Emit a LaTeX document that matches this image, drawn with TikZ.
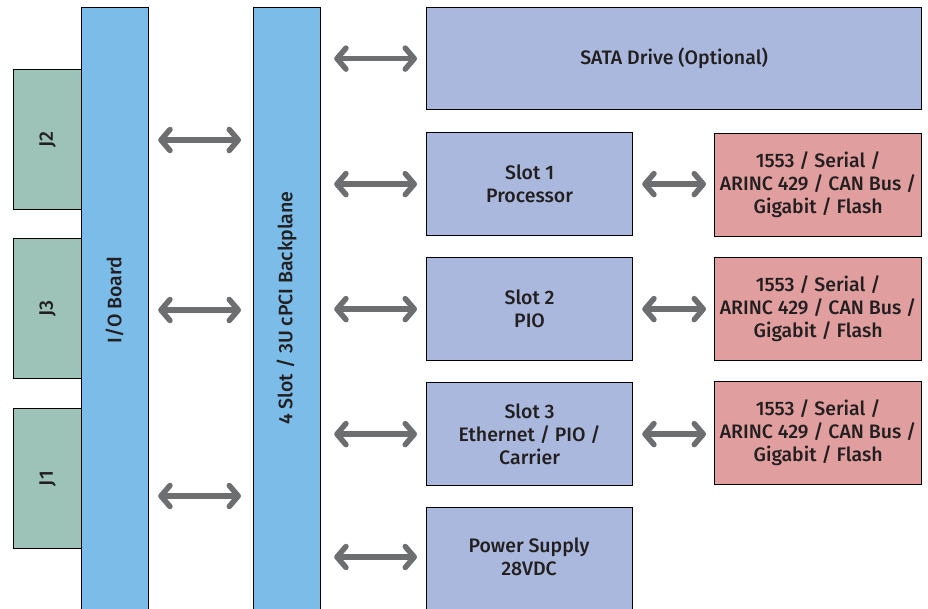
\documentclass[tikz,border=0pt]{standalone}
\usepackage{fontspec}
\setmainfont{Fira Sans}[UprightFont=* Medium, BoldFont=* SemiBold]
\usetikzlibrary{arrows.meta}
\definecolor{barblue}{HTML}{7BBCE8}
\definecolor{jgreen}{HTML}{9DC3B8}
\definecolor{slotblue}{HTML}{A9B8DC}
\definecolor{iored}{HTML}{E09E9E}
\definecolor{arrowgray}{HTML}{6D6E70}
\definecolor{inktext}{HTML}{231F20}
\tikzset{
  boxfont/.style={font=\fontsize{19.5}{23}\selectfont},
  blk/.style={draw=black, line width=1.2pt, anchor=north west, inner sep=0pt,
    text=inktext, boxfont, align=center},
  bar/.style={blk, fill=barblue, minimum width=67pt, minimum height=620pt},
  jbox/.style={blk, fill=jgreen, minimum width=68pt, minimum height=140pt},
  slotbox/.style={blk, fill=slotblue, minimum width=206pt, minimum height=103pt},
  iobox/.style={blk, fill=iored, minimum width=207pt, minimum height=103pt},
  vlabel/.style={rotate=90, text=inktext, boxfont},
  biarrow/.style={draw=arrowgray, line width=5.5pt, line cap=round,
    {Straight Barb[length=9pt,width=21pt,round]}-{Straight Barb[length=9pt,width=21pt,round]}},
}
\begin{document}
\begin{tikzpicture}[x=1pt,y=-1pt]
\useasboundingbox (0,0) rectangle (928,609);
\clip (0,0) rectangle (928,609);

% connectors J1-J3
\node[jbox] (j2) at (13,69) {};
\node[jbox] (j3) at (13,238) {};
\node[jbox] (j1) at (13,408) {};
\node[vlabel] (j2t) at (j2.center) {J2};
\node[vlabel] (j3t) at (j3.center) {J3};
\node[vlabel] (j1t) at (j1.center) {J1};

% vertical boards
\node[bar] (io) at (81,7) {};
\node[bar] (bp) at (253,7) {};
\node[vlabel] (iot) at (114.5,300) {I/O Board};
\node[vlabel] (bpt) at (286.5,308) {4 Slot / 3U cPCI Backplane};

% slots
\node[slotbox, minimum width=495pt, minimum height=102pt] (sata) at (426,7) {SATA Drive (Optional)};
\node[slotbox] (s1) at (426,132) {Slot 1\\Processor};
\node[slotbox] (s2) at (426,257) {Slot 2\\PIO};
\node[slotbox] (s3) at (426,382) {Slot 3\\Ethernet / PIO /\\Carrier};
\node[slotbox, minimum height=115pt] (ps) at (426,507) {};
\node[text=inktext, boxfont, align=center] (pst) at (529,557) {Power Supply\\28VDC};

% I/O modules
\node[iobox] (m1) at (714,133) {1553 / Serial /\\ARINC 429 / CAN Bus /\\Gigabit / Flash};
\node[iobox] (m2) at (714,257) {1553 / Serial /\\ARINC 429 / CAN Bus /\\Gigabit / Flash};
\node[iobox] (m3) at (714,381) {1553 / Serial /\\ARINC 429 / CAN Bus /\\Gigabit / Flash};

% I/O board to backplane
\foreach \yy in {140,310,496}
  \draw[biarrow, shorten <=9pt, shorten >=12pt] (io.east |- 0,\yy) -- (bp.west |- 0,\yy);

% backplane to slots
\draw[biarrow, shorten <=13pt, shorten >=9pt] (bp.east |- sata) -- (sata.west);
\draw[biarrow, shorten <=13pt, shorten >=9pt] (bp.east |- s1) -- (s1.west);
\draw[biarrow, shorten <=13pt, shorten >=9pt] (bp.east |- s2) -- (s2.west);
\draw[biarrow, shorten <=13pt, shorten >=9pt] (bp.east |- s3) -- (s3.west);
\draw[biarrow, shorten <=13pt, shorten >=9pt] (bp.east |- pst) -- (pst.west -| ps.west);

% slots to I/O modules
\draw[biarrow, shorten <=9pt, shorten >=8pt] (s1.east) -- (m1.west |- s1.east);
\draw[biarrow, shorten <=9pt, shorten >=8pt] (s2.east) -- (m2.west |- s2.east);
\draw[biarrow, shorten <=9pt, shorten >=8pt] (s3.east) -- (m3.west |- s3.east);
\end{tikzpicture}
\end{document}
